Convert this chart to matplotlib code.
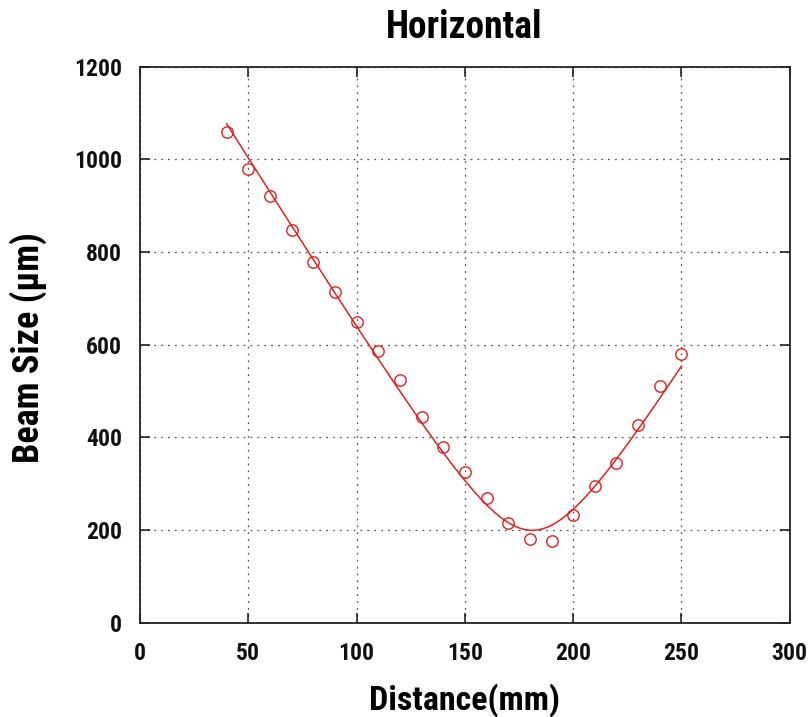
import numpy as np
import matplotlib
matplotlib.use("Agg")
import matplotlib.pyplot as plt
from matplotlib import font_manager

# measured beam size along the beamline
distance_mm = [40, 50, 60, 70, 80, 90, 100, 110, 120, 130, 140,
               150, 160, 170, 180, 190, 200, 210, 220, 230, 240, 250]
beam_size_um = [1060, 979, 921, 847, 779, 714, 648, 586, 524, 445, 380,
                325, 269, 216, 180, 177, 233, 294, 344, 427, 511, 579]

x_ticks = [0, 50, 100, 150, 200, 250, 300]
y_ticks = [0, 200, 400, 600, 800, 1000, 1200]

available = {f.name for f in font_manager.fontManager.ttflist}
prefs = ["Liberation Sans Narrow", "Roboto Condensed", "DejaVu Sans Condensed",
         "Noto Sans CJK JP"]
family = [f for f in prefs if f in available][:1] or ["DejaVu Sans"]
plt.rcParams["font.family"] = family + ["DejaVu Sans"]
plt.rcParams["font.weight"] = "bold"

red = "#e02020"


def envelope(p, z):
    s0, z0, th = p
    return np.sqrt(s0 ** 2 + (th * (z - z0)) ** 2)


# least-squares fit of the beam envelope sigma(z) = sqrt(s0^2 + th^2 (z - z0)^2)
z = np.asarray(distance_mm, float)
s = np.asarray(beam_size_um, float)
p = np.array([s.min(), z[np.argmin(s)], 7.0])
for _ in range(100):
    f = envelope(p, z)
    s0, z0, th = p
    J = np.column_stack([s0 / f, -th ** 2 * (z - z0) / f, th * (z - z0) ** 2 / f])
    step, *_ = np.linalg.lstsq(J, s - f, rcond=None)
    p = p + step
zf = np.linspace(z.min(), z.max(), 400)
sf = envelope(p, zf)

fig = plt.figure(figsize=(8.09, 7.17), dpi=100)
ax = fig.add_axes([0.1731, 0.1315, 0.8031, 0.7755])

ax.plot(zf, sf, color=red, lw=1.1, zorder=3)
ax.plot(distance_mm, beam_size_um, linestyle="none", marker="o",
        markersize=8.2, markerfacecolor="none", markeredgecolor=red,
        markeredgewidth=1.0, zorder=4)

ax.set_xlim(0, 300)
ax.set_ylim(0, 1200)
ax.set_xticks(x_ticks)
ax.set_yticks(y_ticks)
ax.set_xticklabels([str(v) for v in x_ticks])
ax.set_yticklabels([str(v) for v in y_ticks])

ax.grid(True, color="#555555", linestyle=(0, (1.5, 4)), linewidth=0.9)
ax.set_axisbelow(True)
ax.tick_params(direction="in", length=7.5, width=1.1, top=True, right=True,
               labelsize=17, colors="#111111")
ax.tick_params(axis="y", pad=13)
ax.tick_params(axis="x", pad=14)
for sp in ax.spines.values():
    sp.set_linewidth(1.3)
    sp.set_color("#222222")

fig.text(0.5736, 0.961, "Horizontal", fontsize=27, fontweight="bold",
         ha="center", va="center")
fig.text(0.5736, 0.024, "Distance(mm)", fontsize=24.5, fontweight="bold",
         ha="center", va="center")
fig.text(0.0346, 0.5146, "Beam Size (μm)", fontsize=26, fontweight="bold",
         ha="center", va="center", rotation=90)

fig.savefig("out.png", dpi=100)
